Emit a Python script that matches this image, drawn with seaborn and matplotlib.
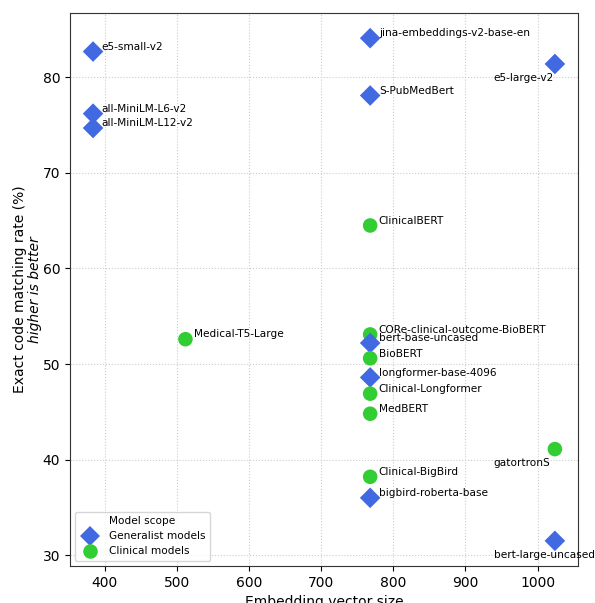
import numpy as np
import pandas as pd
import matplotlib
matplotlib.use('Agg')
import matplotlib.pyplot as plt
import seaborn as sns

# data
models = ['e5-small-v2', 'jina-embeddings-v2-base-en', 'e5-large-v2', 'S-PubMedBert',
          'all-MiniLM-L6-v2', 'all-MiniLM-L12-v2', 'ClinicalBERT', 'Medical-T5-Large',
          'CORe-clinical-outcome-BioBERT', 'bert-base-uncased', 'BioBERT',
          'longformer-base-4096', 'Clinical-Longformer', 'MedBERT', 'gatortronS',
          'Clinical-BigBird', 'bigbird-roberta-base', 'bert-large-uncased']
emb_size = [384, 768, 1024, 768, 384, 384, 768, 512, 768, 768, 768, 768, 768, 768, 1024, 768, 768, 1024]
match_rate = [82.7, 84.1, 81.4, 78.1, 76.2, 74.7, 64.5, 52.6, 53.1, 52.2, 50.6, 48.6, 46.9, 44.8, 41.1, 38.2, 36.0, 31.5]
scope = ['Generalist models', 'Generalist models', 'Generalist models', 'Generalist models',
         'Generalist models', 'Generalist models', 'Clinical models', 'Clinical models',
         'Clinical models', 'Generalist models', 'Clinical models', 'Generalist models',
         'Clinical models', 'Clinical models', 'Clinical models', 'Clinical models',
         'Generalist models', 'Generalist models']

df = pd.DataFrame({'Model': models, 'Embedding vector size': emb_size,
                   'rate': match_rate, 'Model scope': scope})

# plain matplotlib look (no seaborn theme)
fig = plt.figure(figsize=(5.95, 6.03), dpi=100)
ax = fig.add_axes([0.1176, 0.0614, 0.8538, 0.917])

sns.scatterplot(data=df, x='Embedding vector size', y='rate', hue='Model scope', style='Model scope',
                hue_order=['Generalist models', 'Clinical models'],
                style_order=['Generalist models', 'Clinical models'],
                palette={'Generalist models': 'royalblue', 'Clinical models': 'limegreen'},
                markers={'Generalist models': 'D', 'Clinical models': 'o'},
                s=110, linewidth=0, ax=ax, zorder=3)

# labels next to the points
for m, xv, yv in zip(df['Model'], df['Embedding vector size'], df['rate']):
    if xv > 1000:
        ax.text(xv - 85, yv - 1.5, m, fontsize=7.6, ha='left', va='center')
    else:
        ax.text(xv + 12, yv + 0.5, m, fontsize=7.6, ha='left', va='center')

ax.grid(True, linestyle=':', color='#cccccc', linewidth=0.8)
ax.set_axisbelow(True)
for sp in ax.spines.values():
    sp.set_color('#333333')
ax.set_xlabel('Embedding vector size', fontsize=10)
ax.set_ylabel('')
# two-line y label, second line italic
ax.text(-0.099, 0.5, 'Exact code matching rate (%)', transform=ax.transAxes,
        rotation=90, ha='center', va='center', fontsize=10)
ax.text(-0.069, 0.5, 'higher is better', transform=ax.transAxes,
        rotation=90, ha='center', va='center', fontsize=10, fontstyle='italic')
ax.set_xticks([400, 500, 600, 700, 800, 900, 1000])
ax.set_yticks([30, 40, 50, 60, 70, 80])
ax.tick_params(labelsize=10)
ax.legend(title='Model scope', loc='lower left', fontsize=7.6, title_fontsize=7.6)

fig.savefig('out.png', dpi=100)
